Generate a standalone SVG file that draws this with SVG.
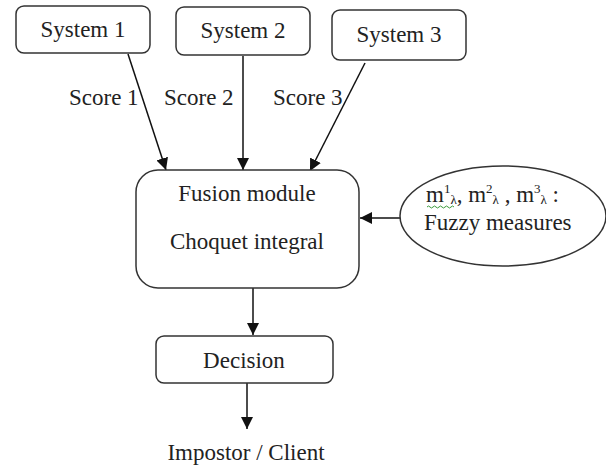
<svg xmlns="http://www.w3.org/2000/svg" width="606" height="468" viewBox="0 0 606 468">
<defs>
<style>
.box{fill:#fff;stroke:#333;stroke-width:1.5}
.t{font-family:"Liberation Serif","Times New Roman",serif;font-size:23px;fill:#222}
.c{text-anchor:middle}
.ln{stroke:#111;stroke-width:1.5;fill:none}
.s{font-size:13px}
</style>
<marker id="ah" markerWidth="12" markerHeight="12" viewBox="0 0 12 12" refX="12" refY="6" orient="auto" markerUnits="userSpaceOnUse">
<path d="M0,0 L12,6 L0,12 Z" fill="#111"/>
</marker>
</defs>
<rect width="606" height="468" fill="#fff"/>
<g id="connectors">
<line class="ln" x1="128" y1="54" x2="166" y2="170" marker-end="url(#ah)"/>
<line class="ln" x1="243" y1="56" x2="243" y2="170" marker-end="url(#ah)"/>
<line class="ln" x1="365" y1="63" x2="310" y2="171" marker-end="url(#ah)"/>
<line class="ln" x1="400" y1="218" x2="360" y2="218" marker-end="url(#ah)"/>
<line class="ln" x1="253" y1="288" x2="253" y2="335" marker-end="url(#ah)"/>
<line class="ln" x1="247" y1="383" x2="247" y2="429" marker-end="url(#ah)"/>
<text class="t" x="69" y="105">Score 1</text>
<text class="t" x="164" y="105">Score 2</text>
<text class="t" x="273" y="105">Score 3</text>
</g>
<g id="system1">
<rect class="box" x="16" y="6" width="134" height="47" rx="8"/>
<text class="t c" x="83" y="37">System 1</text>
</g>
<g id="system2">
<rect class="box" x="176" y="7" width="134" height="48" rx="8"/>
<text class="t c" x="243" y="38">System 2</text>
</g>
<g id="system3">
<rect class="box" x="332" y="10" width="134" height="50" rx="8"/>
<text class="t c" x="399" y="42">System 3</text>
</g>
<g id="fusion">
<rect class="box" x="136" y="170" width="223" height="118" rx="22"/>
<text class="t c" x="247" y="201">Fusion module</text>
<text class="t c" x="247" y="249">Choquet integral</text>
</g>
<g id="measures">
<ellipse class="box" cx="503" cy="216" rx="103" ry="50"/>
<text class="t" x="426" y="202">m<tspan class="s" dy="-9">1</tspan><tspan class="s" dy="11">λ</tspan><tspan dy="-2">, m</tspan><tspan class="s" dy="-9">2</tspan><tspan class="s" dy="11">λ</tspan><tspan dy="-2"> , m</tspan><tspan class="s" dy="-9">3</tspan><tspan class="s" dy="11">λ</tspan><tspan dy="-2"> :</tspan></text>
<path d="M427,207 q1.5,-2 3,0 t3,0 t3,0 t3,0 t3,0 t3,0 t3,0 t3,0 t3,0" fill="none" stroke="#3a9a3a" stroke-width="1"/>
<text class="t" x="424" y="230">Fuzzy measures</text>
</g>
<g id="decision">
<rect class="box" x="156" y="336" width="177" height="47" rx="8"/>
<text class="t c" x="244" y="368">Decision</text>
</g>
<g id="output">
<text class="t c" x="246" y="460">Impostor / Client</text>
</g>
</svg>
